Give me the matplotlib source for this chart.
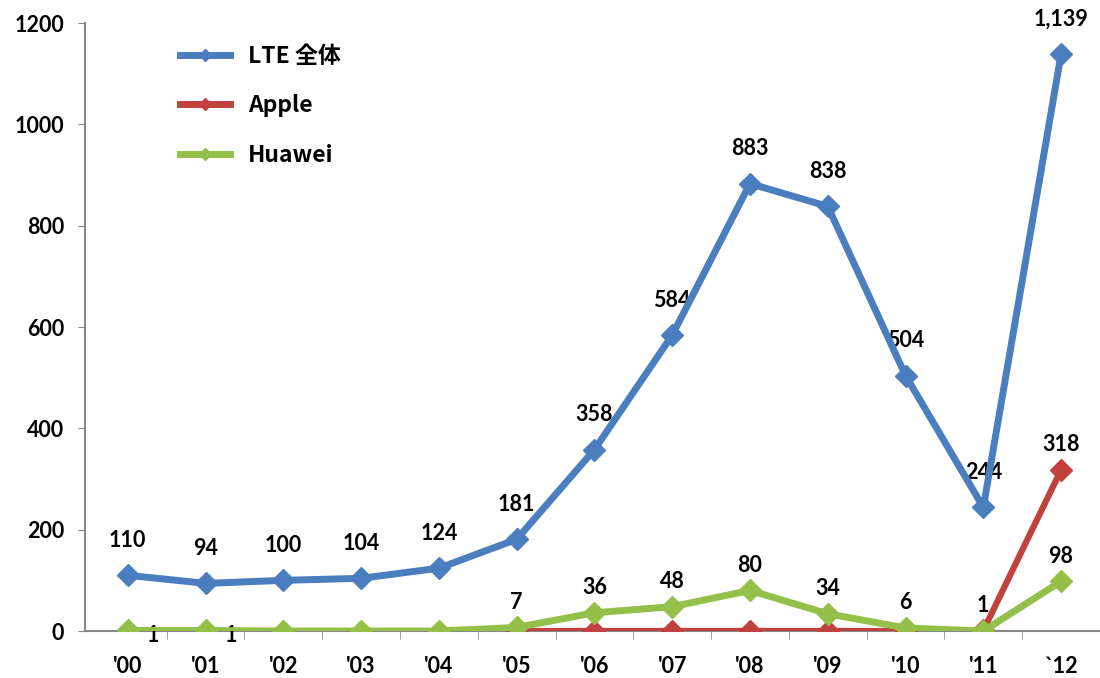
import numpy as np
import matplotlib.pyplot as plt
from matplotlib.lines import Line2D

years = ["'00", "'01", "'02", "'03", "'04", "'05", "'06", "'07", "'08", "'09", "'10", "'11", "`12"]
lte = [110, 94, 100, 104, 124, 181, 358, 584, 883, 838, 504, 244, 1139]
apple = [np.nan, np.nan, np.nan, np.nan, np.nan, 0, 0, 0, 0, 0, 0, 1, 318]
huawei = [1, 1, 0, 0, 0, 7, 36, 48, 80, 34, 6, 0, 98]

BLUE = '#4a7ebf'
RED = '#c0413e'
GREEN = '#94c04a'
num_font = 'Lato'
lbl = dict(ha='center', va='center', fontsize=15.5, family=num_font, fontweight='bold')

fig = plt.figure(figsize=(11, 6.78), dpi=100)
ax = fig.add_axes([85 / 1100, 47 / 678, 1015 / 1100, 608 / 678])
x = np.arange(len(years))

ax.plot(x, apple, color=RED, lw=4.5, marker='D', ms=11, label='Apple', zorder=3)
ax.plot(x, huawei, color=GREEN, lw=5, marker='D', ms=11, label='Huawei', zorder=4)
ax.plot(x, lte, color=BLUE, lw=5, marker='D', ms=11, label='LTE 全体', zorder=5)

# data labels
for i, v in enumerate(lte):
    ax.annotate(f'{v:,}', (i, v), xytext=(0, 35), textcoords='offset pixels', **lbl)

for i, v in enumerate(huawei):
    if v > 0:
        off = (25, -5) if i < 2 else (0, 25)
        ax.annotate(str(v), (i, v), xytext=off, textcoords='offset pixels', **lbl)

for i, v in enumerate(apple):
    if v > 0:
        ax.annotate(str(int(v)), (i, v), xytext=(0, 25), textcoords='offset pixels', **lbl)

ax.set_xlim(-0.55, 12.5)
ax.set_ylim(0, 1200)
ax.set_yticks(range(0, 1201, 200))
ax.set_xticks(x)
ax.set_xticklabels(years)
ax.set_xticks(np.arange(0.5, 13, 1), minor=True)
ax.tick_params(axis='x', which='major', length=0, pad=18)
ax.tick_params(axis='x', which='minor', length=6, color='#888888', direction='out')
ax.tick_params(axis='y', length=5, color='#888888', pad=10)
for lab in ax.get_xticklabels() + ax.get_yticklabels():
    lab.set_family(num_font)
    lab.set_fontweight('bold')
    lab.set_fontsize(15.5)

for s in ['top', 'right']:
    ax.spines[s].set_visible(False)
for s in ['left', 'bottom']:
    ax.spines[s].set_color('#888888')
    ax.spines[s].set_linewidth(1.5)

h, l = ax.get_legend_handles_labels()
order = [2, 0, 1]
handles = [Line2D([], [], color=h[k].get_color(), lw=5, marker='D', ms=6) for k in order]
ax.legend(handles, [l[k] for k in order], loc='upper left',
          bbox_to_anchor=(180 / 1100, 1 - 45 / 678), bbox_transform=fig.transFigure,
          frameon=False, borderpad=0, borderaxespad=0, handlelength=2.2,
          handletextpad=0.75, labelspacing=1.15,
          prop={'family': ['Noto Sans CJK JP', 'DejaVu Sans'], 'weight': 'bold', 'size': 16.5})

fig.savefig('out.png', dpi=100)
